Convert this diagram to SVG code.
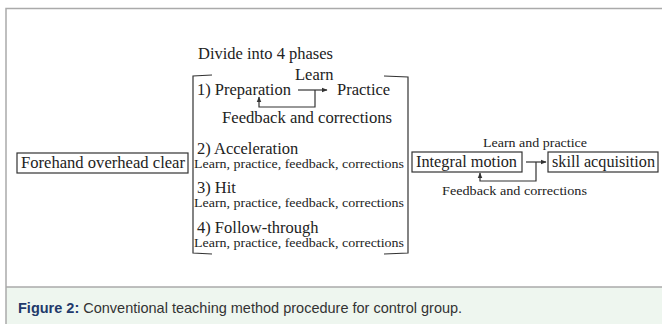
<svg xmlns="http://www.w3.org/2000/svg" width="662" height="324" viewBox="0 0 662 324">
<defs>
<style>
.t{font-family:"Liberation Serif","Times New Roman",serif;fill:#222;}
.s16{font-size:16.5px;}
.s12{font-size:12px;}
.box{fill:none;stroke:#333;stroke-width:1.2;}
.ln{fill:none;stroke:#333;stroke-width:1.2;}
.frame{fill:none;stroke:#aaa;stroke-width:1.5;}
</style>
<marker id="ah" viewBox="0 0 10 10" refX="9" refY="5" markerWidth="5" markerHeight="5" orient="auto">
<path d="M0,1 L10,5 L0,9 Z" fill="#333"/>
</marker>
</defs>
<rect x="0" y="0" width="662" height="324" fill="#fff"/>
<rect x="6" y="287" width="656" height="37" fill="#eef6ef"/>
<path class="frame" d="M6,324 L6,8.5 L662,8.5"/>
<line class="frame" x1="6" y1="287" x2="662" y2="287"/>

<g id="title"><text class="t s16" x="198" y="59" textLength="135" lengthAdjust="spacingAndGlyphs">Divide into 4 phases</text></g>

<g id="bracket">
<path class="ln" d="M212,75 L193,76 L193,253 L212,254"/>
<path class="ln" d="M384,76 L408,77 L408,253 L384,254"/>
</g>

<g id="forehand">
<rect class="box" x="17" y="153" width="171" height="20"/>
<text class="t s16" x="21" y="168" textLength="164" lengthAdjust="spacingAndGlyphs">Forehand overhead clear</text>
</g>

<g id="phase1">
<text class="t s16" x="197" y="95">1) Preparation</text>
<text class="t s16" x="337" y="95">Practice</text>
<text class="t s16" x="295" y="80">Learn</text>
<text class="t s16" x="222" y="123" textLength="170" lengthAdjust="spacingAndGlyphs">Feedback and corrections</text>
</g>

<g id="phase2">
<text class="t s16" x="197" y="154">2) Acceleration</text>
<text class="t s12" x="194" y="168" textLength="210" lengthAdjust="spacingAndGlyphs">Learn, practice, feedback, corrections</text>
</g>
<g id="phase3">
<text class="t s16" x="197" y="193">3) Hit</text>
<text class="t s12" x="194" y="207" textLength="210" lengthAdjust="spacingAndGlyphs">Learn, practice, feedback, corrections</text>
</g>
<g id="phase4">
<text class="t s16" x="197" y="233">4) Follow-through</text>
<text class="t s12" x="194" y="247" textLength="210" lengthAdjust="spacingAndGlyphs">Learn, practice, feedback, corrections</text>
</g>

<g id="integral">
<rect class="box" x="412" y="152" width="110" height="20"/>
<text class="t s16" x="416" y="167" textLength="101" lengthAdjust="spacingAndGlyphs">Integral motion</text>
</g>
<g id="skill">
<rect class="box" x="548" y="152" width="110" height="20"/>
<text class="t s16" x="552" y="167" textLength="103" lengthAdjust="spacingAndGlyphs">skill acquisition</text>
</g>
<g id="labels">
<text class="t s12" x="483" y="147" textLength="104" lengthAdjust="spacingAndGlyphs">Learn and practice</text>
<text class="t s12" x="442" y="195" textLength="145" lengthAdjust="spacingAndGlyphs">Feedback and corrections</text>
</g>

<g id="connectors">
<path class="ln" d="M298,90 L327,90" marker-end="url(#ah)"/>
<path class="ln" d="M315,90 L315,107 L259,107 L259,97" marker-end="url(#ah)"/>
<path class="ln" d="M526,162 L546,162" marker-end="url(#ah)"/>
<path class="ln" d="M536,162 L536,181 L480,181 L480,173" marker-end="url(#ah)"/>
</g>

<g id="caption">
<text x="18" y="313" font-family="'Liberation Sans',Arial,sans-serif" font-size="14.5" fill="#333"><tspan font-weight="bold" fill="#22396b">Figure 2:</tspan> Conventional teaching method procedure for control group.</text>
</g>
</svg>
